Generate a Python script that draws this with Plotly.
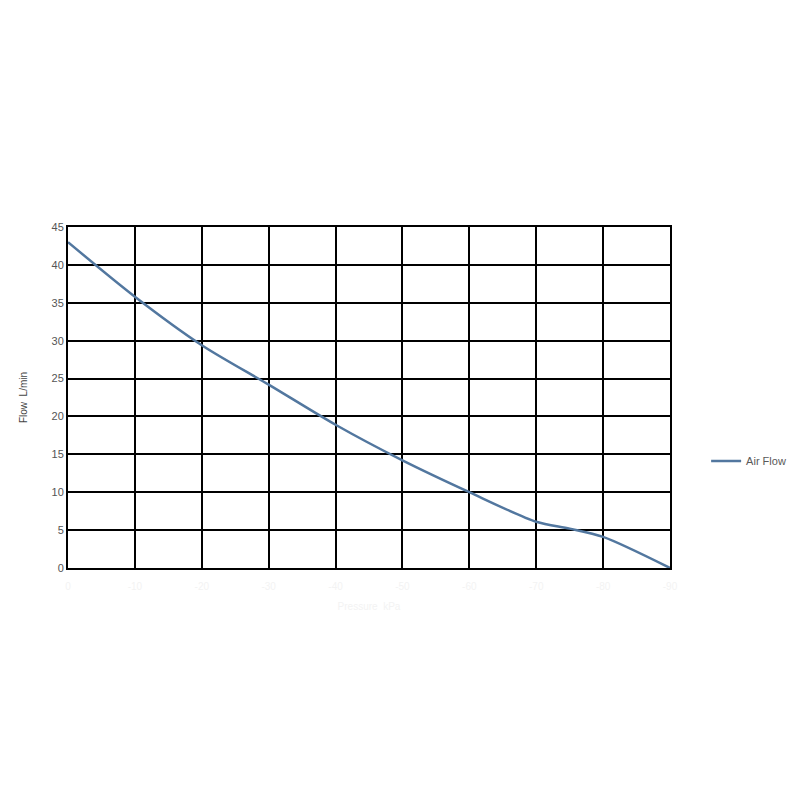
import plotly.graph_objects as go

# pressure (x) and air flow (y)
pressure = [0, 10, 20, 30, 40, 50, 60, 70, 75, 80, 90]
air_flow = [43, 35.8, 29.4, 24.2, 18.9, 14.2, 10.0, 6.1, 5.2, 4.1, 0]

x_ticks = [0, 10, 20, 30, 40, 50, 60, 70, 80, 90]
x_tick_labels = ["0", "-10", "-20", "-30", "-40", "-50", "-60", "-70", "-80", "-90"]
y_ticks = [0, 5, 10, 15, 20, 25, 30, 35, 40, 45]

fig = go.Figure()
fig.add_trace(go.Scatter(
    x=pressure,
    y=air_flow,
    mode="lines",
    name="Air Flow",
    line=dict(color="#52779f", width=2.5, shape="spline", smoothing=0.8),
))

fig.update_layout(
    width=800,
    height=800,
    paper_bgcolor="white",
    plot_bgcolor="white",
    margin=dict(l=60, r=138, t=219, b=240),
    font=dict(family="Liberation Sans", size=11, color="#595959"),
    showlegend=True,
    legend=dict(
        x=1.06, y=0.314, xanchor="left", yanchor="middle",
        font=dict(size=11, color="#595959"),
        bgcolor="rgba(0,0,0,0)",
    ),
)

# x labels are washed out almost to white in the original
fig.update_xaxes(
    range=[0, 90],
    tickvals=x_ticks,
    ticktext=x_tick_labels,
    tickfont=dict(color="#f3f3f3", size=10),
    showgrid=True, gridcolor="black", gridwidth=2,
    showline=True, linecolor="black", linewidth=2, mirror=True,
    zeroline=False,
    ticks="outside", ticklen=8, tickcolor="rgba(0,0,0,0)",
    title=dict(text="Pressure  kPa", font=dict(color="#f3f3f3", size=10), standoff=12),
)
fig.update_yaxes(
    range=[0, 45],
    tickvals=y_ticks,
    showgrid=True, gridcolor="black", gridwidth=2,
    showline=True, linecolor="black", linewidth=2, mirror=True,
    zeroline=False,
    ticks="",
    tickfont=dict(size=11, color="#555555"),
    title=dict(text="Flow  L/min", font=dict(size=10, color="#444444"), standoff=22),
)

fig.write_html("out.html")
